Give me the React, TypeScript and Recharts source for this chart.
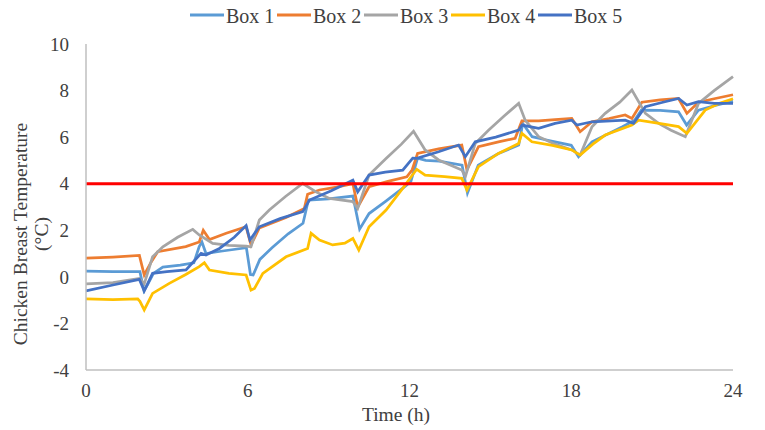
import React from "react";
import { LineChart, Line, XAxis, YAxis, Legend, ReferenceLine } from "recharts";

const seriesNames = ["Box 1", "Box 2", "Box 3", "Box 4", "Box 5"];
const seriesColors = ["#5B9BD5", "#ED7D31", "#A5A5A5", "#FFC000", "#4472C4"];
const xTicks = [0, 6, 12, 18, 24];
const yTicks = [-4, -2, 0, 2, 4, 6, 8, 10];
const threshold = 4;
const xTitle = "Time (h)";
const yTitleLines = ["Chicken Breast Temperature", "(°C)"];

type Pt = [number, number];

const box1: Pt[] = [
  [0, 0.25], [1, 0.22], [2.0, 0.22], [2.15, -0.6], [2.3, -0.3], [2.5, 0.15], [2.85, 0.42],
  [3.5, 0.5], [4.0, 0.6], [4.2, 1.3], [4.3, 1.5], [4.45, 1.0], [5.0, 1.1], [5.95, 1.25],
  [6.1, 0.1], [6.2, 0.08], [6.45, 0.75], [6.9, 1.25], [7.5, 1.85], [8.05, 2.3], [8.25, 3.3],
  [9.0, 3.35], [9.9, 3.47], [10.15, 2.05], [10.5, 2.72], [11.1, 3.23], [11.8, 3.85],
  [12.05, 4.1], [12.3, 5.1], [12.6, 5.0], [13.1, 4.97], [13.95, 4.8], [14.15, 3.6],
  [14.55, 4.8], [15.3, 5.3], [16.05, 5.66], [16.2, 6.59], [16.55, 6.02], [17.0, 5.9],
  [18.0, 5.65], [18.27, 5.16], [18.77, 5.8], [19.9, 6.45], [20.35, 6.73], [20.6, 7.16],
  [21.3, 7.15], [21.98, 7.09], [22.28, 6.52], [22.72, 7.16], [23.3, 7.35], [24, 7.55],
];

const box2: Pt[] = [
  [0, 0.8], [1, 0.85], [1.98, 0.92], [2.16, 0.08], [2.4, 0.6], [2.66, 1.08], [3.7, 1.3],
  [4.2, 1.5], [4.35, 2.0], [4.58, 1.6], [5.2, 1.87], [5.94, 2.15], [6.12, 1.37], [6.43, 2.1],
  [7.42, 2.55], [8.1, 2.94], [8.22, 3.55], [8.66, 3.73], [9.3, 3.85], [9.9, 4.0], [10.08, 3.0],
  [10.5, 3.87], [11.2, 4.1], [11.9, 4.3], [12.1, 4.6], [12.3, 5.3], [13.08, 5.5], [13.94, 5.66],
  [14.13, 4.6], [14.56, 5.59], [15.3, 5.8], [15.92, 5.95], [16.17, 6.7], [16.79, 6.7],
  [17.4, 6.75], [18.02, 6.8], [18.33, 6.23], [18.77, 6.66], [19.4, 6.8], [20.0, 6.95],
  [20.25, 6.8], [20.62, 7.5], [21.3, 7.6], [21.98, 7.66], [22.29, 7.02], [22.72, 7.5],
  [23.3, 7.65], [24, 7.82],
];

const box3: Pt[] = [
  [0, -0.3], [1, -0.25], [1.98, -0.07], [2.16, -0.3], [2.47, 0.86], [2.85, 1.29], [3.4, 1.7],
  [3.96, 2.04], [4.2, 1.8], [4.7, 1.44], [5.3, 1.35], [5.94, 1.32], [6.12, 1.29], [6.43, 2.44],
  [6.8, 2.87], [7.4, 3.45], [8.04, 4.01], [8.53, 3.65], [9.03, 3.37], [9.9, 3.23], [10.08, 2.94],
  [10.5, 4.37], [11.13, 5.08], [11.7, 5.7], [12.15, 6.25], [12.58, 5.45], [13.08, 5.02],
  [13.94, 4.59], [14.07, 4.3], [14.44, 5.73], [14.93, 6.3], [15.5, 6.9], [16.05, 7.45],
  [16.29, 6.73], [16.79, 6.02], [17.4, 5.7], [18.02, 5.45], [18.33, 5.23], [18.77, 6.45],
  [19.26, 7.02], [19.8, 7.5], [20.25, 8.02], [20.75, 7.02], [21.24, 6.59], [21.7, 6.3],
  [22.23, 6.02], [22.72, 7.45], [23.3, 8.0], [24, 8.6],
];

const box4: Pt[] = [
  [0, -0.95], [1, -0.98], [1.92, -0.95], [2.0, -1.05], [2.16, -1.42], [2.47, -0.71],
  [3.09, -0.28], [3.7, 0.1], [4.2, 0.44], [4.39, 0.61], [4.58, 0.29], [5.3, 0.15], [5.94, 0.08],
  [6.12, -0.57], [6.25, -0.5], [6.56, 0.15], [7.42, 0.86], [8.22, 1.22], [8.35, 1.87],
  [8.66, 1.58], [9.15, 1.37], [9.6, 1.45], [9.9, 1.65], [10.12, 1.15], [10.5, 2.15],
  [11.13, 2.87], [11.84, 3.94], [12.06, 4.3], [12.27, 4.62], [12.58, 4.37], [13.3, 4.3],
  [13.94, 4.23], [14.13, 3.73], [14.56, 4.73], [15.3, 5.3], [16.05, 5.73], [16.17, 6.16],
  [16.54, 5.8], [17.3, 5.65], [18.02, 5.45], [18.33, 5.23], [18.8, 5.7], [19.26, 6.09],
  [20.25, 6.52], [20.5, 6.73], [21.2, 6.6], [21.98, 6.45], [22.29, 6.16], [22.97, 7.16],
  [23.5, 7.45], [24, 7.65],
];

const box5: Pt[] = [
  [0, -0.6], [1, -0.35], [1.98, -0.11], [2.16, -0.6], [2.47, 0.15], [3.0, 0.22], [3.71, 0.3],
  [4.27, 1.01], [4.45, 0.94], [4.95, 1.22], [5.5, 1.7], [5.94, 2.2], [6.08, 1.58], [6.43, 2.15],
  [7.2, 2.5], [8.04, 2.8], [8.29, 3.3], [9.1, 3.7], [9.9, 4.15], [10.08, 3.65], [10.5, 4.37],
  [11.1, 4.5], [11.75, 4.58], [12.12, 5.1], [12.27, 5.09], [13.08, 5.37], [13.82, 5.66],
  [14.07, 5.16], [14.44, 5.8], [15.2, 6.0], [16.05, 6.3], [16.17, 6.52], [16.79, 6.38],
  [17.4, 6.59], [18.02, 6.73], [18.21, 6.52], [18.77, 6.66], [20.0, 6.73], [20.31, 6.59],
  [20.75, 7.31], [21.4, 7.5], [21.98, 7.66], [22.29, 7.38], [22.72, 7.52], [23.3, 7.45],
  [24, 7.45],
];

const seriesData = [box1, box2, box3, box4, box5];
const toPoints = (arr: Pt[]) => arr.map(([t, v]) => ({ t, v }));

const FONT = "'Liberation Serif', 'Times New Roman', serif";
const TEXT = "#404040";

const LegendContent = (props: any) => {
  const payload = props.payload || [];
  return (
    <svg width={765} height={30} style={{ display: "block" }}>
      {payload.map((entry: any, i: number) => {
        const x0 = 190 + i * 87;
        return (
          <g key={String(entry.value)}>
            <line x1={x0} x2={x0 + 34} y1={15} y2={15} stroke={entry.color} strokeWidth={3} />
            <text x={x0 + 36} y={22.5} fontSize={20} fill={TEXT} fontFamily={FONT}>
              {entry.value}
            </text>
          </g>
        );
      })}
    </svg>
  );
};

const YTitle = () => (
  <g fontFamily={FONT} fontSize={19.5} fill={TEXT}>
    <text x={27} y={234} textAnchor="middle" transform="rotate(-90 27 234)">
      {yTitleLines[0]}
    </text>
    <text x={48} y={234} textAnchor="middle" transform="rotate(-90 48 234)">
      {yTitleLines[1]}
    </text>
  </g>
);

const XTitle = () => (
  <text x={396} y={421} textAnchor="middle" fontFamily={FONT} fontSize={19.5} fill={TEXT}>
    {xTitle}
  </text>
);

export default function App() {
  return (
    <div style={{ position: "absolute", left: 0, top: 0, width: 765, height: 430, background: "#fff" }}>
      <LineChart width={765} height={430} margin={{ top: 14, right: 32, left: 0, bottom: 0 }}>
        <XAxis
          type="number"
          dataKey="t"
          domain={[0, 24]}
          ticks={xTicks}
          allowDuplicatedCategory={false}
          tickLine={false}
          tickMargin={7.5}
          height={60}
          axisLine={{ stroke: "#BFBFBF", strokeWidth: 1.5 }}
          tick={{ fill: TEXT, fontSize: 19, fontFamily: FONT }}
          label={{ content: XTitle }}
        />
        <YAxis
          type="number"
          domain={[-4, 10]}
          ticks={yTicks}
          tickLine={false}
          tickMargin={11}
          width={86}
          axisLine={{ stroke: "#BFBFBF", strokeWidth: 1.5 }}
          tick={{ fill: TEXT, fontSize: 19, fontFamily: FONT }}
          label={{ content: YTitle }}
        />
        <Legend
          verticalAlign="top"
          layout="horizontal"
          content={LegendContent}
          wrapperStyle={{ position: "absolute", top: 0, left: 0, width: 765, height: 30 }}
        />
        {seriesData.map((d, i) => (
          <Line
            key={seriesNames[i]}
            name={seriesNames[i]}
            data={toPoints(d)}
            dataKey="v"
            type="linear"
            stroke={seriesColors[i]}
            strokeWidth={2.75}
            dot={false}
            activeDot={false}
            isAnimationActive={false}
          />
        ))}
        <ReferenceLine y={threshold} stroke="#FF0000" strokeWidth={3} />
      </LineChart>
    </div>
  );
}
